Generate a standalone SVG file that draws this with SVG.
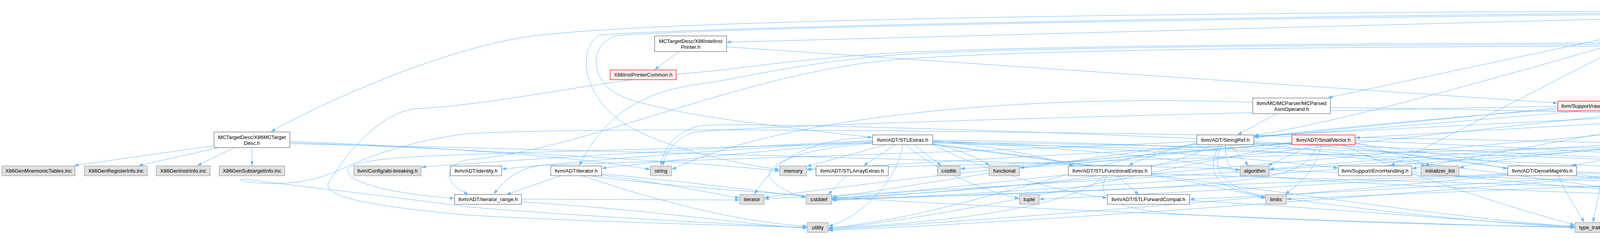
<svg xmlns="http://www.w3.org/2000/svg" width="6012" height="612" viewBox="0 0 6012 612">
<style>
.e{fill:none;stroke:#63b8ff;stroke-width:1;marker-end:url(#a)}
text{font-family:"Liberation Sans",Arial,Helvetica,sans-serif;font-size:13.33px;text-anchor:middle;fill:#000}
rect{stroke-width:1.2}
.w rect{fill:#fff;stroke:#666}
.r rect{fill:#fff0f0;stroke:#f00}
.g rect{fill:#e0e0e0;stroke:#999}
.root rect{fill:#999;stroke:#666}
</style>
<defs>
<marker id="a" markerUnits="userSpaceOnUse" markerWidth="11" markerHeight="8" refX="11" refY="4" orient="auto"><path d="M0,0 L11,4 L0,8 z" fill="#63b8ff"/></marker>
</defs>
<rect x="0" y="0" width="6012" height="612" fill="#fff"/>
<g id="edges">
<path class="e" d="M4372,42 L1860,108"/>
<path class="e" d="M4372,28 C3000,32 1700,50 1365,92 C1150,120 850,250 694,337"/>
<path class="e" d="M4372,35 C3300,45 1900,68 1580,91 C1505,110 1505,215 1600,250 C1720,295 2000,325 2233,352"/>
<path class="e" d="M4372,32 C3300,40 1800,68 1533,90 C1480,125 1490,235 1583,306 C1660,365 1850,415 1995,434"/>
<path class="e" d="M4372,43 L3400,250"/>
<path class="e" d="M4401,45 L4251,99"/>
<path class="e" d="M4472,45 L4697,345"/>
<path class="e" d="M4543,44 C4700,80 4860,190 4950,258"/>
<path class="e" d="M4543,40 C4800,60 5020,120 5114,178"/>
<path class="e" d="M4543,34 L5272,102"/>
<path class="e" d="M4543,30 C5000,40 5380,50 5459,84 C5505,110 5525,200 5530,258"/>
<path class="e" d="M4543,32 C5100,55 5500,90 5576,164 C5650,240 5700,290 5733,345"/>
<path class="e" d="M4543,27 C5200,45 5900,110 5990,160 C6025,200 6025,360 5990,400 C5900,445 5750,480 5639,507"/>
<path class="e" d="M4372,45 C4000,150 3500,300 3211,347"/>
<path class="e" d="M1738,132 L1676,178"/>
<path class="e" d="M1860,120 L3987,264"/>
<path class="e" d="M548,373 L190,424"/>
<path class="e" d="M560,378 L355,424"/>
<path class="e" d="M600,378 L505,424"/>
<path class="e" d="M645,378 L645,424"/>
<path class="e" d="M742,362 C1000,372 1450,395 1664,434"/>
<path class="e" d="M742,365 C1200,382 1800,415 1995,438"/>
<path class="e" d="M742,368 C2000,395 4500,470 5245,508"/>
<path class="e" d="M4217,125 L4363,345"/>
<path class="e" d="M4248,125 L4414,178"/>
<path class="e" d="M4120,114 C3200,116 2600,122 2300,140 C2050,160 1900,200 1800,214 C1650,232 1550,290 1483,424"/>
<path class="e" d="M4120,118 C3200,121 2600,130 2300,152 C1900,185 1500,385 1200,409 C1140,418 1128,468 1199,497"/>
<path class="e" d="M4120,110 C3200,112 2600,120 2300,135 C2050,150 1900,175 1800,184 C1500,210 1300,265 1059,279 C980,292 900,370 840,470 C830,505 950,528 1200,551 C1500,568 1900,578 2066,582"/>
<path class="e" d="M4140,125 L3560,424"/>
<path class="e" d="M4298,118 C4800,190 5400,400 5590,497"/>
<path class="e" d="M4298,114 C4700,190 5100,400 5265,497"/>
<path class="e" d="M5347,125 L5064,424"/>
<path class="e" d="M4460,204 C4472,270 4470,380 4437,459 C4430,475 4420,488 4412,497"/>
<path class="e" d="M4491,204 L5015,424"/>
<path class="e" d="M4538,200 C4850,250 5150,380 5262,497"/>
<path class="e" d="M5209,204 C5300,225 5410,245 5467,262"/>
<path class="e" d="M5144,204 L5056,424"/>
<path class="e" d="M5162,204 C5250,300 5300,380 5296,497"/>
<path class="e" d="M5225,197 C5500,212 5800,290 5840,390 C5860,440 5760,482 5639,506"/>
<path class="e" d="M5074,196 C4500,260 3900,380 3615,432"/>
<path class="e" d="M5074,202 C4500,240 3700,320 3211,350"/>
<path class="e" d="M5074,200 C4000,300 2500,480 2130,508"/>
<path class="e" d="M3268,291 L3168,345"/>
<path class="e" d="M3406,275 C4500,290 5300,330 5666,356"/>
<path class="e" d="M3207,262 C2600,240 2000,300 1720,434"/>
<path class="e" d="M4092,284 L4222,424"/>
<path class="e" d="M3988,276 L3211,352"/>
<path class="e" d="M3988,272 C3000,290 1900,322 1774,339 C1740,350 1705,380 1697,424"/>
<path class="e" d="M4172,268 C5000,300 5450,400 5590,497"/>
<path class="e" d="M4172,272 C4800,320 5100,420 5245,504"/>
<path class="e" d="M4172,278 C4400,330 4500,420 4535,497"/>
<path class="e" d="M3988,280 C3000,350 2400,470 2130,505"/>
<path class="e" d="M4100,284 C4125,380 4095,480 4078,569"/>
<path class="e" d="M4908,270 L3470,353"/>
<path class="e" d="M4908,266 C4300,290 3600,330 3211,348"/>
<path class="e" d="M4955,284 L4758,424"/>
<path class="e" d="M5036,272 C5300,300 5560,330 5668,350"/>
<path class="e" d="M5036,278 C5300,310 5500,400 5592,497"/>
<path class="e" d="M4908,280 C4000,350 2600,480 2130,511"/>
<path class="e" d="M5036,283 C5180,340 5260,400 5282,497"/>
<path class="e" d="M5562,284 L5713,345"/>
<path class="e" d="M5530,284 C5510,380 5450,470 5307,508"/>
<path class="e" d="M5466,283 C5200,300 4900,330 4784,352"/>
<path class="e" d="M5466,279 C5000,295 4600,330 4453,350"/>
<path class="e" d="M2234,360 C1800,380 1300,410 1079,428"/>
<path class="e" d="M2234,362 C1800,385 1500,412 1285,433"/>
<path class="e" d="M2234,364 C1900,390 1650,418 1541,431"/>
<path class="e" d="M2234,366 C1700,382 1200,392 1059,402 C950,408 880,420 891,440 C900,470 1000,495 1163,508"/>
<path class="e" d="M2267,371 L2066,426"/>
<path class="e" d="M2292,371 L2211,424"/>
<path class="e" d="M2234,352 C2080,355 1990,400 1932,497"/>
<path class="e" d="M2234,367 C2050,380 1960,420 1970,452 C1985,482 2030,496 2063,506"/>
<path class="e" d="M2311,371 C2300,460 2200,560 2121,579"/>
<path class="e" d="M2340,371 L2410,424"/>
<path class="e" d="M2388,368 C2440,380 2500,400 2533,424"/>
<path class="e" d="M2388,362 C2550,372 2680,405 2748,424"/>
<path class="e" d="M2388,370 C2500,430 2700,490 2834,507"/>
<path class="e" d="M2388,363 C2800,380 3050,412 3174,436"/>
<path class="e" d="M2388,361 C2900,378 3250,410 3425,430"/>
<path class="e" d="M2388,359 C3000,366 3450,395 3650,424"/>
<path class="e" d="M2388,369 C2800,420 3100,470 3239,508"/>
<path class="e" d="M2320,371 C2400,440 2520,490 2609,508"/>
<path class="e" d="M2388,364 C3800,380 5000,440 5572,508"/>
<path class="e" d="M2388,367 C3600,390 4700,450 5245,503"/>
<path class="e" d="M2388,370 C3000,450 3700,560 4031,580"/>
<path class="e" d="M3210,362 C3500,380 3750,410 3859,432"/>
<path class="e" d="M3064,365 C2980,390 2920,405 2890,424"/>
<path class="e" d="M3064,362 C2500,390 1600,415 1391,423 C1330,428 1290,460 1265,497"/>
<path class="e" d="M3210,368 C3700,420 4100,480 4324,508"/>
<path class="e" d="M3149,371 L3196,424"/>
<path class="e" d="M3210,366 C4300,400 5000,460 5572,506"/>
<path class="e" d="M3100,371 C3000,450 2500,490 2130,507"/>
<path class="e" d="M3137,371 C3137,420 3150,445 3200,450 C3600,480 4200,500 4509,508"/>
<path class="e" d="M3128,371 C3103,421 3110,470 3239,506"/>
<path class="e" d="M3122,371 C3090,430 3100,475 3200,495 C3500,540 3800,570 4031,582"/>
<path class="e" d="M3064,355 C2500,330 1900,315 1800,321 C1740,330 1700,370 1692,424"/>
<path class="e" d="M3064,368 C2700,440 2400,560 2121,583"/>
<path class="e" d="M3360,371 L3246,424"/>
<path class="e" d="M3383,371 C3370,430 3330,470 3290,497"/>
<path class="e" d="M3373,371 C3340,440 3300,455 3000,478 C2600,500 2300,505 2130,509"/>
<path class="e" d="M3307,368 C2800,400 2200,470 1957,506"/>
<path class="e" d="M3307,365 C2800,390 2300,420 2066,435"/>
<path class="e" d="M3307,366 C3000,390 2700,420 2459,432"/>
<path class="e" d="M3307,367 C3000,390 2800,420 2611,429"/>
<path class="e" d="M3469,365 C3560,390 3620,410 3662,424"/>
<path class="e" d="M3469,360 C4500,400 5200,470 5572,504"/>
<path class="e" d="M3432,371 C3800,430 4300,480 4509,500"/>
<path class="e" d="M3469,368 C3900,420 4200,470 4332,497"/>
<path class="e" d="M3440,371 C3600,450 3900,540 4031,576"/>
<path class="e" d="M3307,370 C2900,450 2400,560 2121,586"/>
<path class="e" d="M4319,371 L4023,424"/>
<path class="e" d="M4378,371 L4399,497"/>
<path class="e" d="M4387,371 C4480,430 4510,460 4521,497"/>
<path class="e" d="M4452,367 C4700,390 4850,410 4960,430"/>
<path class="e" d="M4298,362 C3900,380 3500,410 3250,433"/>
<path class="e" d="M4452,364 C5000,400 5400,460 5572,500"/>
<path class="e" d="M4298,365 C4000,390 3800,410 3736,430"/>
<path class="e" d="M4298,367 C3500,420 2400,490 1957,509"/>
<path class="e" d="M4330,371 C4200,440 4130,520 4110,569"/>
<path class="e" d="M4298,369 C3000,340 1600,320 1200,342 C1050,360 950,400 895,423 C860,440 800,470 700,470 C600,468 600,455 640,460 C700,470 900,490 1200,530 C1500,555 1900,575 2066,583"/>
<path class="e" d="M4298,368 C3500,430 2600,495 2130,513"/>
<path class="e" d="M4696,371 C4680,420 4600,470 4488,498"/>
<path class="e" d="M4629,368 L4296,424"/>
<path class="e" d="M4783,361 C5200,400 5450,460 5572,502"/>
<path class="e" d="M4629,364 C3500,390 2600,420 2066,433"/>
<path class="e" d="M4629,370 C4400,430 4200,520 4116,576"/>
<path class="e" d="M5749,371 C5765,430 5720,490 5639,507"/>
<path class="e" d="M5667,365 C5200,390 4700,410 4301,436"/>
<path class="e" d="M1435,450 L1297,498"/>
<path class="e" d="M1540,445 C1800,470 1950,490 2063,504"/>
<path class="e" d="M1540,448 C1700,470 1800,490 1893,507"/>
<path class="e" d="M1508,450 C2000,520 3500,570 4031,583"/>
<path class="e" d="M1490,450 C1700,520 1900,570 2066,579"/>
<path class="e" d="M1335,510 C1600,511 1800,512 1893,512"/>
<path class="e" d="M1335,517 C1700,540 1900,575 2066,584"/>
<path class="e" d="M2167,450 L2120,498"/>
<path class="e" d="M2859,450 L2915,498"/>
<path class="e" d="M2827,450 C2780,500 2600,560 2121,585"/>
<path class="e" d="M2832,450 C2810,500 2830,530 3000,547 C3400,570 3800,578 4031,581"/>
<path class="e" d="M2948,445 C3800,470 4800,500 5245,511"/>
<path class="e" d="M3045,513 C3500,540 3800,570 4031,579"/>
<path class="e" d="M3614,440 C3900,470 4200,490 4324,505"/>
<path class="e" d="M4036,440 C4800,460 5300,490 5572,509"/>
<path class="e" d="M3860,445 C3200,470 2500,500 2130,512"/>
<path class="e" d="M4036,443 C4600,460 5000,490 5245,513"/>
<path class="e" d="M3860,447 C3400,470 2900,500 2661,510"/>
<path class="e" d="M3990,450 C4010,500 4040,540 4055,569"/>
<path class="e" d="M3860,449 C3300,500 2600,560 2121,588"/>
<path class="e" d="M4261,450 L4363,498"/>
<path class="e" d="M4200,450 C4150,500 4110,540 4098,569"/>
<path class="e" d="M4161,447 C3800,470 3300,500 3046,510"/>
<path class="e" d="M4300,444 C4900,460 5350,490 5572,510"/>
<path class="e" d="M4161,449 C3300,520 2600,570 2121,590"/>
<path class="e" d="M4697,450 L4571,503"/>
<path class="e" d="M4715,450 C4680,500 4500,560 4116,584"/>
<path class="e" d="M4680,449 C4600,470 4520,485 4470,498"/>
<path class="e" d="M4785,444 C5000,470 5150,490 5245,505"/>
<path class="e" d="M5089,450 L5244,503"/>
<path class="e" d="M5039,450 C5000,500 4900,540 4116,586"/>
<path class="e" d="M5138,449 C5350,470 5500,490 5572,504"/>
<path class="e" d="M4961,440 C4700,460 4550,480 4487,501"/>
<path class="e" d="M4961,445 C4800,470 4650,490 4571,506"/>
<path class="e" d="M4961,447 C4200,470 3500,500 3294,510"/>
<path class="e" d="M4961,437 L4786,437"/>
</g>
<g id="n-root" class="root"><rect x="4372" y="5" width="171" height="40"/><text x="4457.5" y="22.5">lib/Target/X86/AsmParser</text><text x="4457.5" y="37.5">/X86Operand.h</text></g>
<g id="n-intelprinter" class="w"><rect x="1676" y="92" width="184" height="40"/><text x="1768" y="109.5">MCTargetDesc/X86IntelInst</text><text x="1768" y="124.5">Printer.h</text></g>
<g id="n-mcreginfo" class="r"><rect x="4120" y="100" width="178" height="25"/><text x="4209" y="117">llvm/MC/MCRegisterInfo.h</text></g>
<g id="n-asmparsercommon" class="w"><rect x="5272" y="100" width="174" height="25"/><text x="5359" y="117">X86AsmParserCommon.h</text></g>
<g id="n-instprintercommon" class="r"><rect x="1562" y="179" width="169" height="25"/><text x="1646.5" y="196">X86InstPrinterCommon.h</text></g>
<g id="n-lanebitmask" class="r"><rect x="4376" y="179" width="162" height="25"/><text x="4457" y="196">llvm/MC/LaneBitmask.h</text></g>
<g id="n-mcsymbol" class="r"><rect x="5074" y="179" width="151" height="25"/><text x="5149.5" y="196">llvm/MC/MCSymbol.h</text></g>
<g id="n-parsedasm" class="w"><rect x="3207" y="251" width="199" height="40"/><text x="3306.5" y="268.5">llvm/MC/MCParser/MCParsed</text><text x="3306.5" y="283.5">AsmOperand.h</text></g>
<g id="n-rawostream" class="r"><rect x="3988" y="259" width="184" height="25"/><text x="4080" y="276">llvm/Support/raw_ostream.h</text></g>
<g id="n-mcinst" class="w"><rect x="4908" y="259" width="128" height="25"/><text x="4972" y="276">llvm/MC/MCInst.h</text></g>
<g id="n-mcexpr" class="w"><rect x="5466" y="259" width="132" height="25"/><text x="5532" y="276">llvm/MC/MCExpr.h</text></g>
<g id="n-mctargetdesc" class="w"><rect x="548" y="338" width="194" height="40"/><text x="645" y="355.5">MCTargetDesc/X86MCTarget</text><text x="645" y="370.5">Desc.h</text></g>
<g id="n-stlextras" class="w"><rect x="2234" y="345.5" width="154" height="25"/><text x="2311" y="362.5">llvm/ADT/STLExtras.h</text></g>
<g id="n-stringref" class="w"><rect x="3064" y="345.5" width="146" height="25"/><text x="3137" y="362.5">llvm/ADT/StringRef.h</text></g>
<g id="n-smallvector" class="r"><rect x="3307" y="345.5" width="162" height="25"/><text x="3388" y="362.5">llvm/ADT/SmallVector.h</text></g>
<g id="n-densemap" class="r"><rect x="4298" y="345.5" width="154" height="25"/><text x="4375" y="362.5">llvm/ADT/DenseMap.h</text></g>
<g id="n-casting" class="r"><rect x="4629" y="345.5" width="154" height="25"/><text x="4706" y="362.5">llvm/Support/Casting.h</text></g>
<g id="n-smloc" class="r"><rect x="5667" y="345.5" width="151" height="25"/><text x="5742.5" y="362.5">llvm/Support/SMLoc.h</text></g>
<g id="n-mnemonic" class="g"><rect x="5" y="425" width="187" height="25"/><text x="98.5" y="442">X86GenMnemonicTables.inc</text></g>
<g id="n-reginfoinc" class="g"><rect x="216" y="425" width="161" height="25"/><text x="296.5" y="442">X86GenRegisterInfo.inc</text></g>
<g id="n-instrinfoinc" class="g"><rect x="400" y="425" width="138" height="25"/><text x="469" y="442">X86GenInstrInfo.inc</text></g>
<g id="n-subtargetinc" class="g"><rect x="561" y="425" width="168" height="25"/><text x="645" y="442">X86GenSubtargetInfo.inc</text></g>
<g id="n-abibreaking" class="g"><rect x="906" y="425" width="172" height="25"/><text x="992" y="442">llvm/Config/abi-breaking.h</text></g>
<g id="n-identity" class="w"><rect x="1153" y="425" width="131" height="25"/><text x="1218.5" y="442">llvm/ADT/identity.h</text></g>
<g id="n-iteratorh" class="w"><rect x="1410" y="425" width="130" height="25"/><text x="1475" y="442">llvm/ADT/iterator.h</text></g>
<g id="n-string" class="g"><rect x="1665" y="425" width="54" height="25"/><text x="1692" y="442">string</text></g>
<g id="n-memory" class="g"><rect x="1996" y="425" width="69" height="25"/><text x="2030.5" y="442">memory</text></g>
<g id="n-stlarrayextras" class="w"><rect x="2089" y="425" width="185" height="25"/><text x="2181.5" y="442">llvm/ADT/STLArrayExtras.h</text></g>
<g id="n-cstdlib" class="g"><rect x="2400" y="425" width="58" height="25"/><text x="2429" y="442">cstdlib</text></g>
<g id="n-functional" class="g"><rect x="2532" y="425" width="78" height="25"/><text x="2571" y="442">functional</text></g>
<g id="n-stlfunctional" class="w"><rect x="2735" y="425" width="213" height="25"/><text x="2841.5" y="442">llvm/ADT/STLFunctionalExtras.h</text></g>
<g id="n-algorithm" class="g"><rect x="3175" y="425" width="74" height="25"/><text x="3212" y="442">algorithm</text></g>
<g id="n-errorhandling" class="w"><rect x="3426" y="425" width="188" height="25"/><text x="3520" y="442">llvm/Support/ErrorHandling.h</text></g>
<g id="n-initlist" class="g"><rect x="3638" y="425" width="97" height="25"/><text x="3686.5" y="442">initializer_list</text></g>
<g id="n-densemapinfo" class="w"><rect x="3860" y="425" width="176" height="25"/><text x="3948" y="442">llvm/ADT/DenseMapInfo.h</text></g>
<g id="n-optional" class="r"><rect x="4161" y="425" width="139" height="25"/><text x="4230.5" y="442">llvm/ADT/Optional.h</text></g>
<g id="n-bit" class="w"><rect x="4680" y="425" width="105" height="25"/><text x="4732.5" y="442">llvm/ADT/bit.h</text></g>
<g id="n-mathextras" class="r"><rect x="4961" y="425" width="177" height="25"/><text x="5049.5" y="442">llvm/Support/MathExtras.h</text></g>
<g id="n-iteratorrange" class="w"><rect x="1164" y="498" width="171" height="25"/><text x="1249.5" y="514.5">llvm/ADT/iterator_range.h</text></g>
<g id="n-iterator" class="g"><rect x="1894" y="498" width="62" height="25"/><text x="1925" y="514.5">iterator</text></g>
<g id="n-cstddef" class="g"><rect x="2064" y="498" width="65" height="25"/><text x="2096.5" y="514.5">cstddef</text></g>
<g id="n-tuple" class="g"><rect x="2610" y="498" width="50" height="25"/><text x="2635" y="514.5">tuple</text></g>
<g id="n-stlforward" class="w"><rect x="2835" y="498" width="210" height="25"/><text x="2940" y="514.5">llvm/ADT/STLForwardCompat.h</text></g>
<g id="n-limits" class="g"><rect x="3240" y="498" width="53" height="25"/><text x="3266.5" y="514.5">limits</text></g>
<g id="n-compiler" class="r"><rect x="4325" y="498" width="161" height="25"/><text x="4405.5" y="514.5">llvm/Support/Compiler.h</text></g>
<g id="n-cstring" class="g"><rect x="4510" y="498" width="60" height="25"/><text x="4540" y="514.5">cstring</text></g>
<g id="n-cstdint" class="g"><rect x="5246" y="498" width="60" height="25"/><text x="5276" y="514.5">cstdint</text></g>
<g id="n-cassert" class="g"><rect x="5573" y="498" width="65" height="25"/><text x="5605.5" y="514.5">cassert</text></g>
<g id="n-utility" class="g"><rect x="2067" y="570" width="53" height="25"/><text x="2093.5" y="587">utility</text></g>
<g id="n-typetraits" class="g"><rect x="4032" y="570" width="83" height="25"/><text x="4073.5" y="587">type_traits</text></g>
</svg>
